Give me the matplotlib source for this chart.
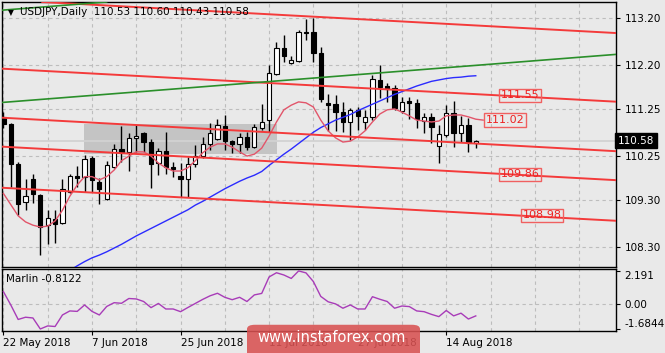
import matplotlib.pyplot as plt
from matplotlib.patches import Rectangle, FancyBboxPatch

plt.rcParams['font.family'] = 'DejaVu Sans'
plt.rcParams['font.size'] = 7.5

# daily candles, 22 May 2018 .. 20 Aug 2018
opens = [111.08, 110.93, 110.08, 109.27, 109.76, 109.42, 108.78, 108.91, 108.82, 109.48,
         109.82, 109.81, 110.21, 109.70, 109.33, 110.02, 110.40, 110.34, 110.64, 110.74,
         110.55, 110.10, 110.36, 110.02, 109.83, 109.76, 110.08, 110.25, 110.51, 110.61,
         110.89, 110.57, 110.51, 110.66, 110.45, 110.85, 111.02, 112.01, 112.56, 112.24,
         112.29, 112.91, 112.91, 112.46, 111.39, 111.36, 111.19, 110.98, 111.24, 110.98,
         111.09, 111.88, 111.75, 111.71, 111.22, 111.43, 111.39, 111.00, 111.09, 110.47,
         110.70, 111.17, 110.74, 110.92, 110.53]
highs = [111.20, 110.95, 110.12, 109.76, 109.87, 109.44, 109.09, 109.09, 109.76, 109.87,
         110.04, 110.27, 110.25, 109.78, 110.15, 110.51, 110.89, 110.74, 110.91, 110.76,
         110.62, 110.42, 110.76, 110.12, 110.10, 110.23, 110.49, 110.66, 110.96, 111.05,
         111.13, 110.59, 110.74, 110.76, 110.94, 111.36, 112.20, 112.69, 112.84, 112.39,
         112.95, 113.18, 113.20, 112.59, 111.58, 111.56, 111.41, 111.28, 111.30, 111.24,
         111.99, 112.20, 111.81, 111.77, 111.51, 111.51, 111.47, 111.17, 111.17, 110.92,
         111.34, 111.43, 111.11, 111.06, 110.60]
lows = [110.85, 109.59, 108.99, 109.09, 109.25, 108.14, 108.37, 108.39, 108.80, 109.46,
        109.58, 109.48, 109.48, 109.22, 109.31, 109.99, 110.12, 109.93, 110.34, 110.34,
        109.57, 109.84, 109.87, 109.81, 109.38, 109.38, 110.02, 110.21, 110.38, 110.59,
        110.38, 110.32, 110.32, 110.38, 110.42, 110.81, 110.77, 111.99, 112.26, 112.22,
        112.26, 112.74, 112.26, 111.41, 110.79, 110.79, 110.77, 110.59, 110.81, 110.81,
        111.02, 111.49, 111.41, 111.24, 111.17, 111.04, 110.85, 110.75, 110.53, 110.10,
        110.66, 110.44, 110.55, 110.34, 110.43]
closes = [110.93, 110.08, 109.23, 109.39, 109.44, 108.73, 108.93, 108.80, 109.55, 109.83,
          109.79, 110.19, 109.74, 109.55, 110.06, 110.40, 110.34, 110.64, 110.68, 110.55,
          110.08, 110.36, 110.02, 109.98, 109.76, 110.08, 110.25, 110.51, 110.74, 110.92,
          110.57, 110.51, 110.66, 110.45, 110.87, 110.98, 112.03, 112.56, 112.39, 112.31,
          112.91, 112.88, 112.46, 111.47, 111.34, 111.19, 110.98, 111.24, 111.11, 111.09,
          111.90, 111.73, 111.69, 111.28, 111.41, 111.39, 111.04, 111.09, 110.88, 110.72,
          111.17, 110.74, 110.92, 110.53, 110.58]

# blue moving average, starts at bar 9
blue_start = 9
blue_ma = [107.80, 107.90, 107.99, 108.07, 108.13, 108.20, 108.28, 108.36, 108.45, 108.54,
           108.62, 108.70, 108.78, 108.86, 108.94, 109.02, 109.10, 109.20, 109.28, 109.37,
           109.46, 109.55, 109.63, 109.71, 109.78, 109.84, 109.92, 110.05, 110.17, 110.29,
           110.40, 110.52, 110.64, 110.76, 110.86, 110.94, 111.02, 111.08, 111.14, 111.22,
           111.29, 111.36, 111.43, 111.50, 111.57, 111.63, 111.69, 111.75, 111.80, 111.85,
           111.88, 111.91, 111.93, 111.94, 111.96, 111.97]
# thin red moving average (runs one bar past the last candle)
red_ma = [109.45, 109.21, 108.97, 108.84, 108.77, 108.73, 108.75, 108.86, 109.09, 109.39,
          109.63, 109.81, 109.81, 109.74, 109.81, 109.95, 110.15, 110.25, 110.34, 110.34,
          110.25, 110.10, 110.00, 109.93, 109.93, 110.00, 110.15, 110.32, 110.44, 110.51,
          110.51, 110.44, 110.34, 110.25, 110.29, 110.42, 110.68, 110.98, 111.24, 111.34,
          111.41, 111.39, 111.30, 111.02, 110.79, 110.64, 110.55, 110.57, 110.66, 110.79,
          110.98, 111.15, 111.24, 111.26, 111.19, 111.11, 111.02, 111.00, 110.98, 111.00,
          111.11, 111.13, 111.13, 111.09, 111.04, 111.02]
marlin = [0.81, -0.08, -1.05, -0.90, -0.95, -1.6844, -1.48, -1.52, -0.75, -0.48,
          -0.51, -0.08, -0.51, -0.75, -0.18, 0.07, 0.03, 0.35, 0.32, 0.15,
          -0.26, 0.02, -0.35, -0.35, -0.53, -0.25, 0.02, 0.29, 0.53, 0.70,
          0.43, 0.27, 0.43, 0.15, 0.59, 0.69, 1.79, 2.07, 1.92, 1.69,
          2.191, 2.06, 1.48, 0.49, 0.13, -0.01, -0.30, -0.08, -0.35, -0.35,
          0.47, 0.30, 0.15, -0.30, -0.15, -0.19, -0.48, -0.53, -0.71, -0.86,
          -0.45, -0.81, -0.63, -1.02, -0.8122]

date_bars = [0, 12, 24, 36, 48, 60]
date_labels = ['22 May 2018', '7 Jun 2018', '25 Jun 2018', '11 Jul 2018', '27 Jul 2018', '14 Aug 2018']
price_ticks = [113.20, 112.20, 111.25, 110.25, 109.30, 108.30]
marlin_ticks = [2.191, 0.0, -1.6844]
marlin_labels = ['2.191', '0.00', '-1.6844']

# drawn objects: trend lines as (bar, price, bar, price)
red_lines = [(0, 113.594, 80, 112.91), (0, 112.12, 80, 111.44), (0, 111.07, 80, 110.38),
             (0, 110.45, 80, 109.76), (0, 109.57, 80, 108.89)]
green_lines = [(0, 111.40, 80, 112.39), (0, 113.376, 80, 114.366)]
box_bars = (10.9, 37.1)
box_prices = (110.30, 110.94)
level_bars = [70, 68, 70, 73]
level_prices = [111.55, 111.02, 109.86, 108.98]
last_price = 110.58

bg = '#e9e9e9'
fig = plt.figure(figsize=(6.65, 3.53), dpi=100, facecolor=bg)
ax = fig.add_axes([2 / 665, 1 - 266.7 / 353, 614 / 665, 264.7 / 353], facecolor=bg)
ax2 = fig.add_axes([2 / 665, 1 - 331 / 353, 614 / 665, 62 / 353], facecolor=bg)

n = len(closes)
xs = list(range(n))

# grids
for b in range(0, 84, 6):
    for a in (ax, ax2):
        a.axvline(b, color='#bdbdbd', lw=0.8, ls=(0, (3, 3)), zorder=0.5)
for p in price_ticks:
    ax.axhline(p, color='#bdbdbd', lw=0.8, ls=(0, (3, 3)), zorder=0.5)
ax2.axhline(0, color='#bdbdbd', lw=0.8, ls=(0, (3, 3)), zorder=0.5)

ax.add_patch(Rectangle((box_bars[0], box_prices[0]), box_bars[1] - box_bars[0],
                       box_prices[1] - box_prices[0], facecolor='#c4c4c4', edgecolor='none', zorder=1))
ax.axhline(last_price, color='#d2d2d2', lw=1.3, zorder=1.5)

# candles
ax.vlines(xs, lows, highs, color='black', lw=1, zorder=3)
bodies = [abs(c - o) for o, c in zip(opens, closes)]
bottoms = [min(o, c) for o, c in zip(opens, closes)]
colors = ['white' if c >= o else 'black' for o, c in zip(opens, closes)]
ax.bar(xs, bodies, bottom=bottoms, width=0.58, color=colors, edgecolor='black', lw=0.8, zorder=4)

ax.plot(range(blue_start, blue_start + len(blue_ma)), blue_ma, color='#2b2bff', lw=1.0, zorder=5)
ax.plot(range(len(red_ma)), red_ma, color='#e2556a', lw=1.0, zorder=5)

for b0, p0, b1, p1 in red_lines:
    ax.axline((b0, p0), (b1, p1), color='#f43a3a', lw=1.4, zorder=5)
for b0, p0, b1, p1 in green_lines:
    ax.axline((b0, p0), (b1, p1), color='#2a8f2a', lw=1.2, zorder=5)

for b, p in zip(level_bars, level_prices):
    ax.text(b, p, f'{p:.2f}', color='#ee2222', fontsize=8, ha='center', va='center', zorder=6,
            bbox=dict(boxstyle='square,pad=0.15', facecolor='none', edgecolor='#f06060', lw=1))

ax.set_xlim(-0.19, 83.0)
ax.set_ylim(107.881, 113.549)
ax.yaxis.tick_right()
ax.set_yticks(price_ticks)
ax.set_yticklabels([f'{p:.2f}' for p in price_ticks])
ax.set_xticks([])
ax.tick_params(axis='y', length=3, pad=3, labelsize=7.5)
ax.annotate(f'{last_price:.2f}', xy=(1.003, last_price), xycoords=('axes fraction', 'data'),
            ha='left', va='center', color='white', fontsize=7.5,
            bbox=dict(boxstyle='square,pad=0.25', facecolor='black', edgecolor='black'), zorder=7,
            annotation_clip=False)

# indicator panel
ax2.plot(range(len(marlin)), marlin, color='#a83cb8', lw=1.0, zorder=3)
ax2.set_xlim(-0.19, 83.0)
ax2.set_ylim(-1.82, 2.32)
ax2.yaxis.tick_right()
ax2.set_yticks(marlin_ticks)
ax2.set_yticklabels(marlin_labels)
labs = ax2.get_yticklabels()
labs[0].set_va('top')
labs[2].set_va('bottom')
ax2.tick_params(axis='y', length=3, pad=3, labelsize=7.5)
ax2.set_xticks(date_bars)
ax2.set_xticklabels(date_labels, ha='left')
ax2.tick_params(axis='x', length=3, pad=2, labelsize=7.5)
ax2.text(0.006, 0.84, f'Marlin {marlin[-1]:.4f}', transform=ax2.transAxes, ha='left', va='center')

for a in (ax, ax2):
    for s in a.spines.values():
        s.set_color('black')
        s.set_linewidth(1)

fig.text(8 / 665, 1 - 12.5 / 353, '\u25bc', fontsize=5.5, ha='left', va='center')
fig.text(20 / 665, 1 - 12.3 / 353, 'USDJPY,Daily  110.53 110.60 110.43 110.58', ha='left', va='center')

# watermark
wm = FancyBboxPatch((247 / 665, -0.02), 173 / 665, 0.1, boxstyle='round,pad=0,rounding_size=0.012',
                    transform=fig.transFigure, facecolor='#d95252', edgecolor='none', alpha=0.88, zorder=10)
fig.patches.append(wm)
fig.text(332 / 665, 1 - 338 / 353, 'www.instaforex.com', color='white', fontsize=10.5,
         ha='center', va='center', zorder=11)

fig.savefig('out.png', dpi=100, facecolor=bg)
